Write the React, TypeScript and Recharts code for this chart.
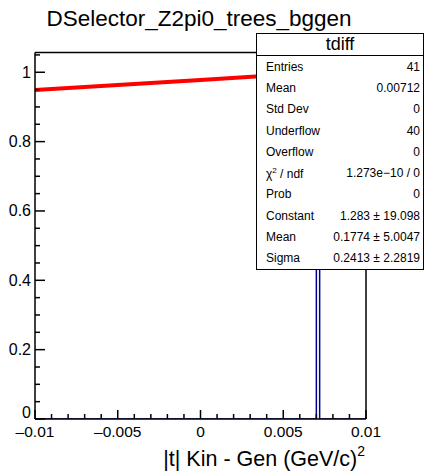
import React from 'react';
import { ComposedChart, Line, XAxis, YAxis, ReferenceLine } from 'recharts';

// histogram "tdiff": bin edges and contents (one filled bin near 0.0071)
const HIST_X = [-0.01, 0.007, 0.0072, 0.01];
const HIST_Y = [0, 1, 0, 0];

// gaussian fit
const FIT_X = [-0.01, -0.005, 0, 0.005, 0.01];
const FIT_Y = [0.949, 0.963, 0.978, 0.993, 1.008];

const X_TICKS = [
  -0.01, -0.009, -0.008, -0.007, -0.006, -0.005, -0.004, -0.003, -0.002, -0.001, 0,
  0.001, 0.002, 0.003, 0.004, 0.005, 0.006, 0.007, 0.008, 0.009, 0.01,
];
const X_MAJOR = [-0.01, -0.005, 0, 0.005, 0.01];
const X_LABELS = ['\u20130.01', '\u20130.005', '0', '0.005', '0.01'];

const Y_TICKS = [
  0, 0.05, 0.1, 0.15, 0.2, 0.25, 0.3, 0.35, 0.4, 0.45, 0.5,
  0.55, 0.6, 0.65, 0.7, 0.75, 0.8, 0.85, 0.9, 0.95, 1, 1.05,
];
const Y_MAJOR = [0, 0.2, 0.4, 0.6, 0.8, 1];
const Y_LABELS = ['0', '0.2', '0.4', '0.6', '0.8', '1'];

const STAT_NAMES = ['Entries', 'Mean', 'Std Dev', 'Underflow', 'Overflow', 'chi2', 'Prob', 'Constant', 'Mean', 'Sigma'];
const STAT_VALUES = ['41', '0.00712', '0', '40', '0', '1.273e\u221210 / 0', '0', '1.283 \u00b1 19.098', '0.1774 \u00b1 5.0047', '0.2413 \u00b1 2.2819'];

const Y_MAX = 1.057;
const FONT = '"Liberation Sans", Arial, Helvetica, sans-serif';

const histData = HIST_X.map((x, i) => ({ x, y: HIST_Y[i] }));
const fitData = FIT_X.map((x, i) => ({ x, y: FIT_Y[i] }));

const findMajor = (list: number[], v: number) => list.findIndex((m) => Math.abs(m - v) < 1e-9);

function XTick(props: any) {
  const { x, y, payload } = props;
  const idx = findMajor(X_MAJOR, payload.value);
  const len = idx >= 0 ? 9 : 5;
  return (
    <g>
      <line x1={x} x2={x} y1={y} y2={y - len} stroke="#000" strokeWidth={1.5} />
      {idx >= 0 && (
        <text x={x} y={y + 18} textAnchor="middle" fontSize={15.5} fontFamily={FONT} fill="#000">
          {X_LABELS[idx]}
        </text>
      )}
    </g>
  );
}

function YTick(props: any) {
  const { x, y, payload } = props;
  const idx = findMajor(Y_MAJOR, payload.value);
  const len = idx >= 0 ? 10 : 5;
  return (
    <g>
      <line x1={x} x2={x + len} y1={y} y2={y} stroke="#000" strokeWidth={1.5} />
      {idx >= 0 && (
        <text
          x={x - 4}
          y={payload.value === 0 ? y - 1 : y + 5.5}
          textAnchor="end"
          fontSize={16}
          fontFamily={FONT}
          fill="#000"
        >
          {Y_LABELS[idx]}
        </text>
      )}
    </g>
  );
}

function StatsBox() {
  return (
    <div
      style={{
        position: 'absolute',
        left: 256,
        top: 33,
        width: 166,
        height: 235,
        border: '1px solid #000',
        background: '#fff',
        fontFamily: FONT,
        color: '#000',
      }}
    >
      <div
        style={{
          height: 21,
          borderBottom: '1px solid #000',
          textAlign: 'center',
          fontSize: 18,
          lineHeight: '21px',
        }}
      >
        tdiff
      </div>
      {STAT_NAMES.map((name, i) => (
        <div
          key={i}
          style={{
            height: 21.3,
            display: 'flex',
            justifyContent: 'space-between',
            alignItems: 'center',
            fontSize: 12,
            padding: '0 3px 0 9px',
          }}
        >
          <span>
            {name === 'chi2' ? (
              <>
                {'\u03c7'}
                <sup style={{ fontSize: 8 }}>2</sup> / ndf
              </>
            ) : (
              name
            )}
          </span>
          <span>{STAT_VALUES[i]}</span>
        </div>
      ))}
    </div>
  );
}

export default function App() {
  return (
    <div style={{ position: 'absolute', left: 0, top: 0, width: 425, height: 472, background: '#fff' }}>
      <ComposedChart
        width={425}
        height={472}
        margin={{ top: 52.5, right: 59, bottom: 23, left: 0 }}
      >
        <XAxis
          dataKey="x"
          type="number"
          domain={[-0.01, 0.01]}
          ticks={X_TICKS}
          interval={0}
          allowDataOverflow
          height={30}
          tickSize={0}
          tickMargin={0}
          tickLine={false}
          axisLine={{ stroke: '#000', strokeWidth: 1.5 }}
          tick={(p: any) => <XTick {...p} />}
        />
        <YAxis
          type="number"
          domain={[0, Y_MAX]}
          ticks={Y_TICKS}
          interval={0}
          allowDataOverflow
          width={35}
          tickSize={0}
          tickMargin={0}
          tickLine={false}
          axisLine={{ stroke: '#000', strokeWidth: 1.5 }}
          tick={(p: any) => <YTick {...p} />}
        />
        <ReferenceLine y={Y_MAX} stroke="#000" strokeWidth={1.5} />
        <ReferenceLine x={0.01} stroke="#000" strokeWidth={1.5} />
        <Line
          data={histData}
          dataKey="y"
          type="stepAfter"
          stroke="#000099"
          strokeWidth={1.5}
          dot={false}
          isAnimationActive={false}
        />
        <Line
          data={fitData}
          dataKey="y"
          type="linear"
          stroke="#ff0000"
          strokeWidth={4}
          dot={false}
          isAnimationActive={false}
        />
      </ComposedChart>
      <svg
        width={425}
        height={472}
        style={{ position: 'absolute', left: 0, top: 0, pointerEvents: 'none' }}
      >
        <text x={199} y={26} textAnchor="middle" fontSize={22.5} fontFamily={FONT} fill="#000">
          DSelector_Z2pi0_trees_bggen
        </text>
        <text x={365} y={466} textAnchor="end" fontSize={21.5} fontFamily={FONT} fill="#000">
          |t| Kin - Gen (GeV/c)
          <tspan fontSize={14} dy={-10}>2</tspan>
        </text>
      </svg>
      <StatsBox />
    </div>
  );
}
